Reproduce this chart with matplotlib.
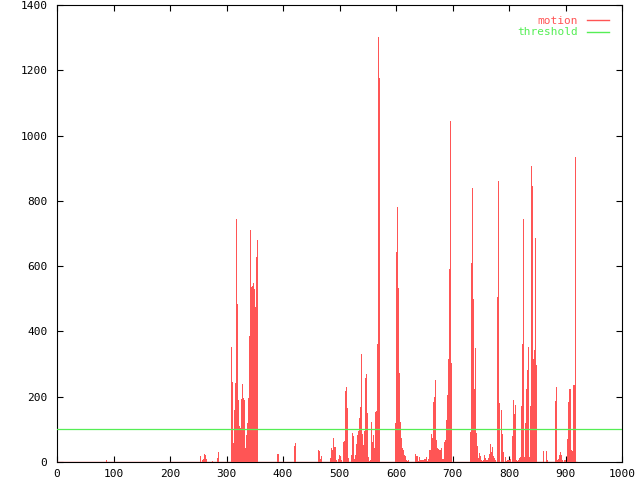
import matplotlib
matplotlib.use("Agg")
import matplotlib.pyplot as plt
from matplotlib.lines import Line2D

RED = "#ff5555"
GREEN = "#55ee55"
INK = "#000000"
FONT = "DejaVu Sans Mono"

# motion per frame (only non-zero frames listed)
frames = [
    87,
    254, 257, 259, 261, 263, 265, 276, 284, 286,
    309, 311, 313, 314, 316, 318, 320, 321, 323, 325, 327, 328, 330, 332, 334,
    336, 337, 339, 341, 343, 344, 346, 348, 350, 351, 353, 355,
    390, 392, 420, 422,
    463, 465, 466, 468,
    484, 486, 488, 489, 491, 493, 495, 498, 500, 502, 504,
    507, 509, 511, 512, 514, 516, 521, 523, 525, 527, 528, 530, 532, 534, 535,
    537, 539, 541, 542, 544, 546, 548, 550, 551, 553, 555, 557, 558, 560, 562,
    564, 565, 567, 569, 571,
    599, 601, 603, 604, 606, 608, 610, 612, 613, 615, 617, 619, 620, 622,
    635, 636, 638, 640, 642, 643, 645, 647, 649, 651, 652, 654, 656, 658, 659,
    661, 663, 665, 666, 668, 670, 672, 674, 675, 677, 679, 681, 682, 684, 686,
    688, 689, 691, 693, 695, 697, 698,
    732, 734, 736, 737, 739, 741, 743, 744, 746, 748, 750, 751, 753, 755, 757,
    759, 760, 762, 764, 766, 767, 769, 771, 773, 774, 776,
    779, 781, 782, 784, 786, 788, 789, 791, 793, 795, 797, 800, 802,
    806, 808, 810, 812, 813, 815, 817, 819, 820, 822, 824, 826, 827, 829, 831,
    833, 835, 836, 838, 840, 842, 843, 845, 847, 849,
    861, 866, 868,
    882, 884, 886, 888, 889, 891, 893, 895, 898, 900, 903, 904, 906, 908, 910,
    911, 913, 915, 917, 918,
]
motion = [
    5,
    18, 5, 10, 25, 22, 10, 3, 13, 31,
    353, 245, 59, 159, 241, 744, 484, 190, 110, 104, 193, 239, 196, 190, 43,
    83, 120, 195, 386, 710, 535, 539, 549, 529, 476, 627, 680,
    25, 25, 49, 57,
    37, 34, 9, 18,
    12, 43, 37, 73, 46, 46, 7, 9, 22, 19, 7,
    61, 65, 217, 231, 166, 12, 22, 90, 80, 9, 22, 55, 84, 96, 134,
    170, 331, 87, 52, 94, 256, 269, 150, 16, 3, 7, 124, 60, 84, 43,
    152, 157, 363, 1303, 1177,
    118, 644, 782, 534, 274, 124, 72, 44, 37, 22, 19, 7, 2, 7,
    25, 17, 19, 4, 15, 7, 7, 7, 7, 9, 9, 15, 4, 10, 37,
    37, 86, 72, 185, 200, 251, 68, 43, 40, 36, 37, 43, 9, 9, 60,
    68, 129, 205, 316, 591, 1045, 304,
    93, 610, 840, 499, 224, 348, 88, 49, 12, 28, 19, 7, 2, 7, 22,
    12, 5, 5, 12, 25, 56, 31, 47, 19, 12, 7,
    506, 862, 361, 180, 159, 64, 86, 32, 16, 2, 7, 5, 9,
    80, 190, 147, 175, 7, 2, 7, 12, 15, 172, 361, 744, 16, 120, 225,
    282, 351, 16, 172, 908, 846, 315, 343, 685, 296,
    34, 34, 5,
    187, 231, 7, 9, 22, 32, 22, 5, 5, 7, 62, 70, 185, 225, 22,
    37, 34, 236, 440, 935,
]
last_frame = 920
threshold = 100

xticks = list(range(0, 1001, 100))
yticks = list(range(0, 1401, 200))

fig = plt.figure(figsize=(6.4, 4.8), dpi=100)
ax = fig.add_axes([57 / 640, 18 / 480, 565 / 640, 457 / 480])

ax.bar(frames, motion, width=1.9, color=RED, linewidth=0, zorder=3)
ax.hlines(0, 0, last_frame, color=RED, lw=1.0, zorder=3)
ax.axhline(threshold, color=GREEN, lw=0.9, zorder=3)

ax.set_xlim(0, 1000)
ax.set_ylim(0, 1400)
ax.set_xticks(xticks)
ax.set_yticks(yticks)
ax.set_axisbelow(True)
ax.tick_params(direction="in", length=4, width=0.8, color=INK,
               top=True, right=True, labelsize=8)
ax.tick_params(axis="x", pad=5)
ax.tick_params(axis="y", pad=7)
for lab in ax.get_xticklabels() + ax.get_yticklabels():
    lab.set_family(FONT)
for s in ax.spines.values():
    s.set_linewidth(0.8)
    s.set_color(INK)

handles = [Line2D([], [], color=RED, lw=1), Line2D([], [], color=GREEN, lw=1)]
leg = ax.legend(handles, ["motion", "threshold"], loc="upper right",
                bbox_to_anchor=(0.985, 0.985), frameon=False, markerfirst=False,
                prop={"family": FONT, "size": 8}, handlelength=2.0,
                handletextpad=0.8, labelspacing=0.1, borderaxespad=0)
for txt, col in zip(leg.get_texts(), [RED, GREEN]):
    txt.set_color(col)

fig.savefig("out.png", dpi=100)
